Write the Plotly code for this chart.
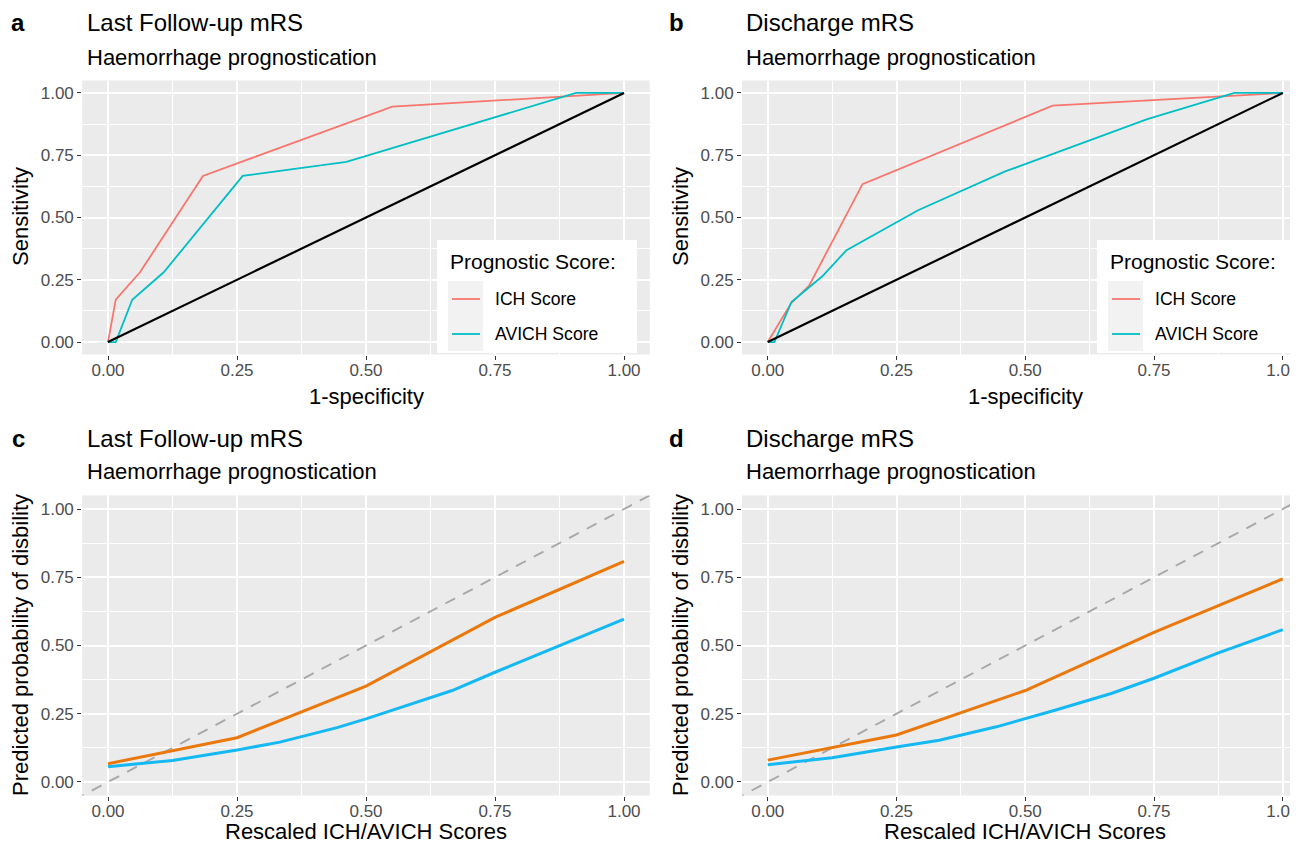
import plotly.graph_objects as go

# The page body has an 8px margin, so the figure is offset by 8px
OFF = 8
W, H = 1298 - OFF, 846 - OFF

# ---------------- data ----------------
# Panel a: ROC, last follow-up mRS
a_ich_fpr = [0, 0.015, 0.062, 0.184, 0.551, 1.0]
a_ich_tpr = [0, 0.17, 0.28, 0.667, 0.945, 1.0]
a_avich_fpr = [0, 0.015, 0.047, 0.108, 0.261, 0.462, 0.907, 1.0]
a_avich_tpr = [0, 0.0, 0.17, 0.28, 0.667, 0.723, 1.0, 1.0]

# Panel b: ROC, discharge mRS
b_ich_fpr = [0, 0.045, 0.08, 0.184, 0.553, 1.0]
b_ich_tpr = [0, 0.155, 0.225, 0.634, 0.949, 1.0]
b_avich_fpr = [0, 0.013, 0.046, 0.106, 0.153, 0.292, 0.461, 0.737, 0.906, 1.0]
b_avich_tpr = [0, 0.0, 0.161, 0.264, 0.369, 0.529, 0.685, 0.895, 1.0, 1.0]

# Panels c/d: calibration (rescaled scores vs predicted probability)
ich_x = [0, 0.25, 0.5, 0.75, 1.0]
c_ich_y = [0.067, 0.162, 0.351, 0.603, 0.808]
d_ich_y = [0.080, 0.172, 0.335, 0.548, 0.744]
avich_x = [0, 0.125, 0.25, 0.333, 0.444, 0.5, 0.556, 0.667, 0.75, 0.875, 1.0]
c_avich_y = [0.056, 0.079, 0.117, 0.146, 0.199, 0.231, 0.266, 0.335, 0.402, 0.5, 0.597]
d_avich_y = [0.063, 0.089, 0.128, 0.153, 0.202, 0.231, 0.262, 0.324, 0.38, 0.473, 0.558]

ref_line = [-0.1, 1.1]
ticks = [0, 0.25, 0.5, 0.75, 1.0]
tick_labels = ["0.00", "0.25", "0.50", "0.75", "1.00"]

titles = ["Last Follow-up mRS", "Discharge mRS", "Last Follow-up mRS", "Discharge mRS"]
subtitle = "Haemorrhage prognostication"
panel_letters = ["a", "b", "c", "d"]
legend_title = "Prognostic Score:"
legend_names = ["ICH Score", "AVICH Score"]

# ---------------- styles ----------------
FONT = "Liberation Sans"
ROC_ICH = "#F8766D"
ROC_AVICH = "#00BFC4"
CAL_ICH = "#EA780C"
CAL_AVICH = "#14B8F2"


def X(p):
    return (p - OFF) / W


def Y(p):
    return 1 - (p - OFF) / H


fig = go.Figure()

# panel a
fig.add_trace(go.Scatter(x=a_ich_fpr, y=a_ich_tpr, mode="lines", line=dict(color=ROC_ICH, width=1.8),
                         xaxis="x", yaxis="y", showlegend=False, name=legend_names[0]))
fig.add_trace(go.Scatter(x=a_avich_fpr, y=a_avich_tpr, mode="lines", line=dict(color=ROC_AVICH, width=1.8),
                         xaxis="x", yaxis="y", showlegend=False, name=legend_names[1]))
fig.add_trace(go.Scatter(x=[0, 1], y=[0, 1], mode="lines", line=dict(color="black", width=2.2),
                         xaxis="x", yaxis="y", showlegend=False))
# panel b
fig.add_trace(go.Scatter(x=b_ich_fpr, y=b_ich_tpr, mode="lines", line=dict(color=ROC_ICH, width=1.8),
                         xaxis="x2", yaxis="y2", showlegend=False, name=legend_names[0]))
fig.add_trace(go.Scatter(x=b_avich_fpr, y=b_avich_tpr, mode="lines", line=dict(color=ROC_AVICH, width=1.8),
                         xaxis="x2", yaxis="y2", showlegend=False, name=legend_names[1]))
fig.add_trace(go.Scatter(x=[0, 1], y=[0, 1], mode="lines", line=dict(color="black", width=2.2),
                         xaxis="x2", yaxis="y2", showlegend=False))
# panel c
fig.add_trace(go.Scatter(x=ref_line, y=ref_line, mode="lines",
                         line=dict(color="#A8A8A8", width=1.9, dash="11px,9px"),
                         xaxis="x3", yaxis="y3", showlegend=False))
fig.add_trace(go.Scatter(x=ich_x, y=c_ich_y, mode="lines", line=dict(color=CAL_ICH, width=3),
                         xaxis="x3", yaxis="y3", showlegend=False))
fig.add_trace(go.Scatter(x=avich_x, y=c_avich_y, mode="lines", line=dict(color=CAL_AVICH, width=3),
                         xaxis="x3", yaxis="y3", showlegend=False))
# panel d
fig.add_trace(go.Scatter(x=ref_line, y=ref_line, mode="lines",
                         line=dict(color="#A8A8A8", width=1.9, dash="11px,9px"),
                         xaxis="x4", yaxis="y4", showlegend=False))
fig.add_trace(go.Scatter(x=ich_x, y=d_ich_y, mode="lines", line=dict(color=CAL_ICH, width=3),
                         xaxis="x4", yaxis="y4", showlegend=False))
fig.add_trace(go.Scatter(x=avich_x, y=d_avich_y, mode="lines", line=dict(color=CAL_AVICH, width=3),
                         xaxis="x4", yaxis="y4", showlegend=False))

# ---------------- axes ----------------
xa_dom = [X(82.2), X(649.8)]
xb_dom = [X(742), 1.0]
xb_max = -0.05 + (1298 - 742) / 515.0
ya_dom = [Y(354.5), Y(80.5)]
yc_dom = [Y(795.6), Y(495.4)]


def axis(domain, rng, anchor, standoff=0):
    return dict(
        domain=domain, range=rng, anchor=anchor,
        tickmode="array", tickvals=ticks, ticktext=tick_labels,
        showgrid=True, gridcolor="white", gridwidth=1.5,
        minor=dict(tickmode="array", tickvals=[0.125, 0.375, 0.625, 0.875],
                   showgrid=True, gridcolor="white", gridwidth=0.7, ticks=""),
        zeroline=False, showline=False,
        ticks="outside", ticklen=4, tickwidth=1.4, tickcolor="#333333",
        tickfont=dict(family=FONT, size=17, color="#4D4D4D"),
        ticklabeloverflow="allow", ticklabelstandoff=standoff,
        fixedrange=True,
    )


fig.update_layout(
    xaxis=axis(xa_dom, [-0.05, 1.05], "y", -4),
    yaxis=axis(ya_dom, [-0.05, 1.05], "x"),
    xaxis2=axis(xb_dom, [-0.05, xb_max], "y2", -4),
    yaxis2=axis(ya_dom, [-0.05, 1.05], "x2"),
    xaxis3=axis(xa_dom, [-0.05, 1.05], "y3", -4),
    yaxis3=axis(yc_dom, [-0.05, 1.05], "x3"),
    xaxis4=axis(xb_dom, [-0.05, xb_max], "y4", -4),
    yaxis4=axis(yc_dom, [-0.05, 1.05], "x4"),
)

# ---------------- text ----------------
ann = []


def text(s, x, y, size, xanchor="left", bold=False, angle=0, color="black"):
    ann.append(dict(text=("<b>%s</b>" % s) if bold else s, x=X(x), y=Y(y), xref="paper", yref="paper",
                    xanchor=xanchor, yanchor="middle", showarrow=False, textangle=angle,
                    font=dict(family=FONT, size=size, color=color)))


col_left = [(18, 85, 20, 366), (676, 744, 680, 1025)]
rows = [(22, 57, 217, 396, "Sensitivity", "1-specificity"),
        (438, 472, 645, 831, "Predicted probability of disbility", "Rescaled ICH/AVICH Scores")]
k = 0
for r, (ty, sy, ycy, xty, ytitle, xtitle) in enumerate(rows):
    for c, (lx, tx, yx, xcx) in enumerate(col_left):
        text(panel_letters[k], lx, ty, 24, xanchor="center", bold=True)
        text(titles[k], tx, ty, 24)
        text(subtitle, tx, sy, 22)
        text(ytitle, yx, ycy, 22, xanchor="center", angle=-90)
        text(xtitle, xcx, xty, 22, xanchor="center")
        k += 1

# ---------------- legends (panels a and b) ----------------
shapes = []
for dx in (0, 660):
    shapes.append(dict(type="rect", xref="paper", yref="paper", x0=X(437 + dx), x1=X(637 + dx),
                       y0=Y(353), y1=Y(240), fillcolor="white", line=dict(width=0)))
    shapes.append(dict(type="rect", xref="paper", yref="paper", x0=X(448 + dx), x1=X(483 + dx),
                       y0=Y(351), y1=Y(281), fillcolor="#F2F2F2", line=dict(width=0)))
    shapes.append(dict(type="line", xref="paper", yref="paper", x0=X(452 + dx), x1=X(480 + dx),
                       y0=Y(299), y1=Y(299), line=dict(color=ROC_ICH, width=1.8)))
    shapes.append(dict(type="line", xref="paper", yref="paper", x0=X(452 + dx), x1=X(480 + dx),
                       y0=Y(334), y1=Y(334), line=dict(color=ROC_AVICH, width=1.8)))
    text(legend_title, 448 + dx, 261, 21)
    text(legend_names[0], 493 + dx, 299, 17.6)
    text(legend_names[1], 493 + dx, 334, 17.6)

fig.update_layout(
    width=W, height=H, margin=dict(l=0, r=0, t=0, b=0),
    paper_bgcolor="white", plot_bgcolor="#EBEBEB",
    annotations=ann, shapes=shapes, showlegend=False,
    font=dict(family=FONT),
)

fig.write_html("out.html")
